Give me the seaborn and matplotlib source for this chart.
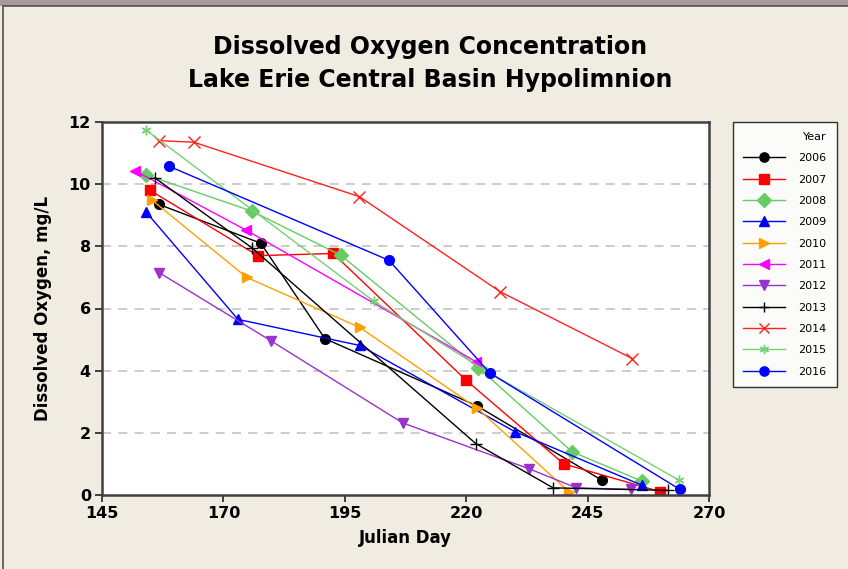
import matplotlib
matplotlib.use("Agg")
import matplotlib.pyplot as plt
import seaborn as sns
import pandas as pd
from matplotlib.lines import Line2D
from matplotlib.patches import Rectangle

years = ['2006', '2007', '2008', '2009', '2010', '2011', '2012', '2013', '2014', '2015', '2016']

day_2006 = [156.7, 177.7, 190.9, 222.2, 247.9]
do_2006 = [9.35, 8.10, 5.03, 2.87, 0.48]
day_2007 = [154.9, 177.1, 192.6, 220.0, 240.1, 259.9]
do_2007 = [9.80, 7.70, 7.77, 3.69, 1.00, 0.11]
day_2008 = [154.1, 175.9, 194.2, 222.5, 241.8, 256.1]
do_2008 = [10.30, 9.13, 7.71, 4.10, 1.39, 0.45]
day_2009 = [154.1, 173.0, 198.1, 230.0, 256.1]
do_2009 = [9.10, 5.65, 4.81, 2.04, 0.32]
day_2010 = [155.2, 174.8, 198.1, 222.2, 241.2]
do_2010 = [9.50, 7.00, 5.39, 2.80, 0.10]
day_2011 = [151.8, 174.7, 222.0]
do_2011 = [10.43, 8.52, 4.29]
day_2012 = [156.8, 179.9, 206.9, 233.0, 242.7, 254.0]
do_2012 = [7.15, 4.95, 2.32, 0.84, 0.23, 0.18]
day_2013 = [155.9, 175.9, 222.0, 237.9, 261.5]
do_2013 = [10.20, 7.95, 1.65, 0.23, 0.15]
day_2014 = [156.8, 163.9, 198.0, 227.0, 254.2]
do_2014 = [11.40, 11.35, 9.60, 6.54, 4.39]
day_2015 = [154.1, 201.0, 224.0, 263.8]
do_2015 = [11.74, 6.23, 4.00, 0.48]
day_2016 = [158.9, 204.1, 224.9, 264.0]
do_2016 = [10.57, 7.55, 3.92, 0.18]

x_ticks = [145, 170, 195, 220, 245, 270]
y_ticks = [0, 2, 4, 6, 8, 10, 12]

days = [day_2006, day_2007, day_2008, day_2009, day_2010, day_2011,
        day_2012, day_2013, day_2014, day_2015, day_2016]
dos = [do_2006, do_2007, do_2008, do_2009, do_2010, do_2011,
       do_2012, do_2013, do_2014, do_2015, do_2016]

rows = []
for yr, dd, vv in zip(years, days, dos):
    for d, v in zip(dd, vv):
        rows.append({'Year': yr, 'Day': d, 'DO': v})
df = pd.DataFrame(rows)

colors = ['#000000', '#FF0000', '#66CC66', '#0000FF', '#FFA000', '#FF00FF',
          '#9933CC', '#000000', '#FF2020', '#77D077', '#0000FF']
marker_list = ['o', 's', 'D', '^', '>', '<', 'v', '+', 'x', (6, 2, 0), 'o']
sizes = [7, 7, 7, 7.5, 7.5, 7.5, 7.5, 8, 8, 7, 7]

BG = '#F0ECE2'
fig = plt.figure(figsize=(8.48, 5.69), dpi=100, facecolor=BG)
ax = fig.add_axes([102 / 848, 1 - 495 / 569, (709 - 102) / 848, (495 - 122) / 569])
ax.set_facecolor('white')

for yr, c, m, ms in zip(years, colors, marker_list, sizes):
    sub = df[df['Year'] == yr]
    n_before = len(ax.lines)
    sns.lineplot(data=sub, x='Day', y='DO', color=c, marker=m, markersize=ms,
                 estimator=None, sort=True, linewidth=1.0, ax=ax, legend=False)
    for ln in ax.lines[n_before:]:
        ln.set_markeredgecolor(c)
        ln.set_markerfacecolor(c)
        ln.set_markeredgewidth(1.0)

ax.set_xlim(145, 270)
ax.set_ylim(0, 12)
ax.set_xticks(x_ticks)
ax.set_yticks(y_ticks)
ax.set_xticklabels([str(t) for t in x_ticks], fontweight='bold', fontsize=11.5)
ax.set_yticklabels([str(t) for t in y_ticks], fontweight='bold', fontsize=11.5)
ax.tick_params(axis='both', direction='out', length=5, width=1.4, color='#404040', pad=3)

for v in y_ticks[1:-1]:
    ax.axhline(v, color='#C8C8C8', linestyle=(0, (5, 4)), linewidth=1.3, zorder=0)

for s in ax.spines.values():
    s.set_color('#404040')
    s.set_linewidth(1.8)

ax.set_xlabel('Julian Day', fontweight='bold', fontsize=12, labelpad=6)
ax.set_ylabel('Dissolved Oxygen, mg/L', fontweight='bold', fontsize=12, labelpad=12)

fig.text(0.507, 1 - 47 / 569, 'Dissolved Oxygen Concentration', ha='center', va='center',
         fontsize=17, fontweight='bold')
fig.text(0.507, 1 - 80 / 569, 'Lake Erie Central Basin Hypolimnion', ha='center', va='center',
         fontsize=17, fontweight='bold')

handles = []
for c, m, ms in zip(colors, marker_list, sizes):
    handles.append(Line2D([0], [0], color=c, marker=m, markersize=ms * 0.95,
                          markerfacecolor=c, markeredgecolor=c, linewidth=1.0))
leg = fig.legend(handles, years, title='Year', loc='upper left',
                 bbox_to_anchor=(733 / 848, 1 - 122 / 569), fontsize=8, title_fontsize=8,
                 frameon=True, fancybox=False, edgecolor='black', facecolor='white',
                 handlelength=3.8, labelspacing=1.02, borderpad=0.9, handletextpad=1.2,
                 borderaxespad=0)
leg.get_frame().set_linewidth(1.0)
leg._legend_box.align = 'right'

# window frame
fig.add_artist(Rectangle((0, 1 - 6 / 569), 1, 6 / 569, transform=fig.transFigure,
                         facecolor='#A89A9A', edgecolor='none'))
fig.add_artist(Line2D([3 / 848, 3 / 848], [0, 1 - 6 / 569], transform=fig.transFigure,
                      color='#505050', linewidth=1.2))
fig.add_artist(Line2D([3 / 848, 1], [1 - 6 / 569, 1 - 6 / 569], transform=fig.transFigure,
                      color='#505050', linewidth=1.2))

fig.savefig('out.png', dpi=100, facecolor=BG)
